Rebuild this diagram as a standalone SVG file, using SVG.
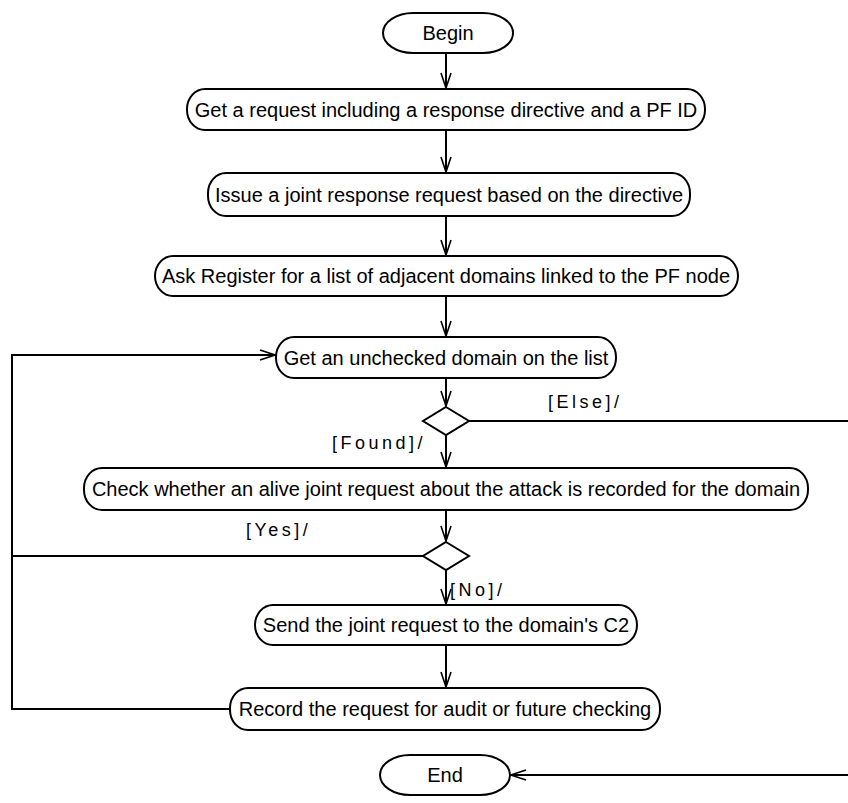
<svg xmlns="http://www.w3.org/2000/svg" width="848" height="803" viewBox="0 0 848 803">
  <style>
    .shape { fill: #fff; stroke: #000; stroke-width: 2; }
    .txt { font-family: "Liberation Sans", Arial, sans-serif; font-size: 20px; fill: #000; text-anchor: middle; dominant-baseline: central; }
    .lbl { font-family: "Liberation Sans", Arial, sans-serif; font-size: 18px; fill: #000; letter-spacing: 3.5px; }
    .wire { fill: none; stroke: #000; stroke-width: 2; }
  </style>
  <defs>
    <marker id="vee" viewBox="-16 -8 18 16" refX="0" refY="0" markerWidth="18" markerHeight="16" markerUnits="userSpaceOnUse" orient="auto">
      <path d="M-15,-5 L0,0 L-15,5" fill="none" stroke="#000" stroke-width="1.6"/>
    </marker>
  </defs>
  <rect width="848" height="803" fill="#fff"/>

  <!-- connectors -->
  <g id="connectors">
    <path class="wire" d="M446,53 V88" marker-end="url(#vee)"/>
    <path class="wire" d="M446,130 V172" marker-end="url(#vee)"/>
    <path class="wire" d="M446,216 V255" marker-end="url(#vee)"/>
    <path class="wire" d="M446,296 V336" marker-end="url(#vee)"/>
    <path class="wire" d="M446,378 V406" marker-end="url(#vee)"/>
    <path class="wire" d="M446,435 V467" marker-end="url(#vee)"/>
    <path class="wire" d="M446,510 V541" marker-end="url(#vee)"/>
    <path class="wire" d="M446,570 V604" marker-end="url(#vee)"/>
    <path class="wire" d="M446,645 V687" marker-end="url(#vee)"/>
    <!-- [Else] branch to End -->
    <path class="wire" d="M469,421 H851 V775 H511" marker-end="url(#vee)"/>
    <!-- [Yes] branch and loop back -->
    <path class="wire" d="M423,556 H12 V355 H275" marker-end="url(#vee)"/>
    <path class="wire" d="M230,709 H12 V556"/>
    <text class="lbl" x="548" y="408">[Else]/</text>
    <text class="lbl" x="332" y="449">[Found]/</text>
    <text class="lbl" x="246" y="536">[Yes]/</text>
    <text class="lbl" x="450" y="596">[No]/</text>
  </g>

  <g id="begin">
    <rect class="shape" x="383" y="13" width="130" height="40" rx="30" ry="20"/>
    <text class="txt" x="448" y="33">Begin</text>
  </g>
  <g id="get-request">
    <rect class="shape" x="187" y="89" width="518" height="41" rx="18" ry="20"/>
    <text class="txt" x="446" y="110">Get a request including a response directive and a PF ID</text>
  </g>
  <g id="issue-joint">
    <rect class="shape" x="208" y="173" width="482" height="43" rx="18" ry="20"/>
    <text class="txt" x="449" y="195">Issue a joint response request based on the directive</text>
  </g>
  <g id="ask-register">
    <rect class="shape" x="155" y="256" width="583" height="40" rx="18" ry="20"/>
    <text class="txt" x="446" y="276">Ask Register for a list of adjacent domains linked to the PF node</text>
  </g>
  <g id="get-unchecked">
    <rect class="shape" x="276" y="337" width="340" height="41" rx="18" ry="20"/>
    <text class="txt" x="446" y="358">Get an unchecked domain on the list</text>
  </g>
  <g id="found-decision">
    <polygon class="shape" points="446,407 469,421 446,435 423,421"/>
  </g>
  <g id="check-alive">
    <rect class="shape" x="84" y="468" width="724" height="42" rx="18" ry="20"/>
    <text class="txt" x="446" y="489">Check whether an alive joint request about the attack is recorded for the domain</text>
  </g>
  <g id="recorded-decision">
    <polygon class="shape" points="446,542 469,556 446,570 423,556"/>
  </g>
  <g id="send-joint">
    <rect class="shape" x="255" y="605" width="382" height="40" rx="18" ry="20"/>
    <text class="txt" x="446" y="625">Send the joint request to the domain's C2</text>
  </g>
  <g id="record-request">
    <rect class="shape" x="230" y="688" width="430" height="42" rx="18" ry="20"/>
    <text class="txt" x="445" y="709">Record the request for audit or future checking</text>
  </g>
  <g id="end">
    <rect class="shape" x="380" y="755" width="130" height="40" rx="30" ry="20"/>
    <text class="txt" x="445" y="775">End</text>
  </g>
</svg>
